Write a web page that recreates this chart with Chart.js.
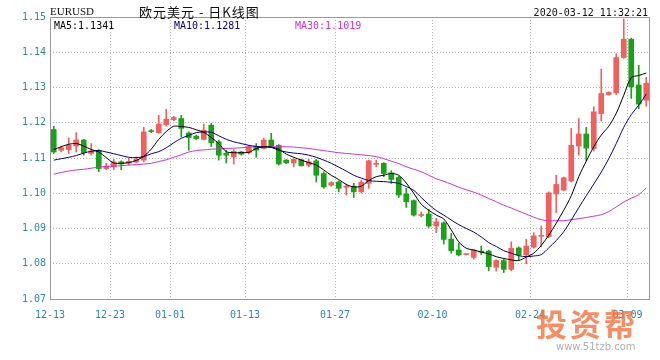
<!DOCTYPE html>
<html><head><meta charset="utf-8">
<script src="https://cdn.jsdelivr.net/npm/chart.js@4/dist/chart.umd.min.js"></script>
<style>html,body{margin:0;padding:0;background:#fff}#wrap{position:relative;width:660px;height:360px}</style>
</head><body><div id="wrap"><canvas id="c" width="660" height="360"></canvas></div>
<script>
const opens = [1.1181,1.1122,1.1124,1.1134,1.1151,1.1113,1.1122,1.1070,1.1075,1.1089,
1.1085,1.1089,1.1094,1.1177,1.1172,1.1195,1.1209,1.1212,1.1171,1.1162,
1.1153,1.1193,1.1146,1.1113,1.1103,1.1117,1.1115,1.1132,1.1127,1.1151,
1.1136,1.1094,1.1086,1.1095,1.1080,1.1092,1.1056,1.1023,1.1032,1.1017,
1.1020,1.1004,1.1028,1.1082,1.1085,1.1058,1.1045,1.0998,1.0979,1.0937,
1.0941,1.0907,1.0916,1.0870,1.0839,1.0826,1.0818,1.0835,1.0836,1.0790,
1.0809,1.0784,1.0845,1.0825,1.0847,1.0878,1.0877,1.0998,1.1009,1.1035,
1.1134,1.1168,1.1127,1.1226,1.1280,1.1285,1.1385,1.1437,1.1307,1.1264];
const closes = [1.1117,1.1129,1.1136,1.1151,1.1115,1.1120,1.1070,1.1077,1.1089,1.1083,
1.1090,1.1096,1.1174,1.1175,1.1196,1.1210,1.1215,1.1184,1.1158,1.1155,
1.1179,1.1143,1.1108,1.1108,1.1119,1.1111,1.1132,1.1122,1.1151,1.1134,
1.1083,1.1086,1.1096,1.1078,1.1089,1.1051,1.1018,1.1030,1.1014,1.1020,
1.1004,1.1031,1.1092,1.1085,1.1056,1.1039,1.0995,1.0976,1.0938,1.0939,
1.0907,1.0919,1.0869,1.0837,1.0825,1.0827,1.0839,1.0833,1.0792,1.0809,
1.0784,1.0844,1.0825,1.0850,1.0879,1.0880,1.1001,1.1025,1.1044,1.1136,
1.1168,1.1128,1.1231,1.1283,1.1286,1.1385,1.1437,1.1302,1.1253,1.1312];
const highs = [1.1190,1.1134,1.1157,1.1172,1.1153,1.1141,1.1124,1.1085,1.1096,1.1092,
1.1099,1.1103,1.1187,1.1181,1.1221,1.1238,1.1218,1.1221,1.1174,1.1165,
1.1196,1.1198,1.1151,1.1122,1.1124,1.1119,1.1136,1.1141,1.1156,1.1170,
1.1138,1.1096,1.1098,1.1097,1.1096,1.1096,1.1061,1.1033,1.1035,1.1026,
1.1028,1.1037,1.1094,1.1094,1.1087,1.1064,1.1048,1.1014,1.0981,1.0947,
1.0954,1.0929,1.0919,1.0886,1.0858,1.0828,1.0840,1.0850,1.0838,1.0812,
1.0813,1.0862,1.0848,1.0869,1.0888,1.0907,1.1004,1.1051,1.1046,1.1184,
1.1212,1.1187,1.1245,1.1352,1.1288,1.1396,1.1494,1.1440,1.1363,1.1329];
const lows = [1.1113,1.1117,1.1113,1.1117,1.1108,1.1108,1.1061,1.1067,1.1067,1.1067,
1.1080,1.1086,1.1089,1.1172,1.1170,1.1190,1.1206,1.1160,1.1122,1.1152,
1.1151,1.1132,1.1094,1.1086,1.1083,1.1108,1.1111,1.1102,1.1126,1.1132,
1.1080,1.1084,1.1075,1.1077,1.1075,1.1032,1.1014,1.1020,1.1004,1.0995,
1.0988,1.1001,1.1014,1.1075,1.1047,1.1028,1.0988,1.0960,1.0935,1.0933,
1.0903,1.0888,1.0856,1.0830,1.0822,1.0825,1.0813,1.0826,1.0780,1.0779,
1.0775,1.0780,1.0811,1.0800,1.0844,1.0848,1.0874,1.0945,1.1007,1.1032,
1.1108,1.1092,1.1120,1.1205,1.1278,1.1280,1.1383,1.1269,1.1240,1.1247];
const ma5 = [1.1124,1.1132,1.1139,1.1141,1.1134,1.1124,1.1117,1.1101,1.1086,1.1085,
1.1087,1.1093,1.1105,1.1125,1.1153,1.1175,1.1190,1.1189,1.1187,1.1180,
1.1173,1.1158,1.1141,1.1118,1.1115,1.1115,1.1116,1.1127,1.1132,1.1131,
1.1125,1.1111,1.1102,1.1094,1.1087,1.1080,1.1066,1.1051,1.1039,1.1025,
1.1018,1.1020,1.1036,1.1047,1.1051,1.1056,1.1051,1.1029,1.1000,1.0969,
1.0952,1.0938,1.0927,1.0896,1.0862,1.0844,1.0839,1.0833,1.0828,1.0820,
1.0815,1.0811,1.0809,1.0819,1.0830,1.0852,1.0881,1.0915,1.0952,1.0993,
1.1047,1.1091,1.1132,1.1165,1.1190,1.1227,1.1278,1.1328,1.1334,1.1341];
const ma10 = [1.1094,1.1098,1.1102,1.1107,1.1114,1.1119,1.1121,1.1117,1.1112,1.1107,
1.1102,1.1101,1.1104,1.1112,1.1118,1.1129,1.1143,1.1156,1.1164,1.1172,
1.1174,1.1173,1.1163,1.1153,1.1146,1.1141,1.1136,1.1133,1.1131,1.1130,
1.1122,1.1117,1.1114,1.1112,1.1108,1.1102,1.1094,1.1085,1.1074,1.1063,
1.1051,1.1043,1.1036,1.1034,1.1033,1.1031,1.1028,1.1019,1.1008,1.0988,
1.0968,1.0951,1.0938,1.0924,1.0911,1.0900,1.0890,1.0876,1.0860,1.0849,
1.0837,1.0830,1.0823,1.0820,1.0822,1.0826,1.0845,1.0866,1.0891,1.0924,
1.0959,1.0993,1.1026,1.1060,1.1098,1.1141,1.1187,1.1223,1.1250,1.1281];
const ma30 = [1.1054,1.1059,1.1063,1.1066,1.1068,1.1071,1.1074,1.1076,1.1077,1.1078,
1.1080,1.1081,1.1083,1.1085,1.1090,1.1095,1.1102,1.1109,1.1117,1.1121,
1.1123,1.1125,1.1126,1.1127,1.1128,1.1129,1.1131,1.1132,1.1132,1.1132,
1.1132,1.1132,1.1131,1.1129,1.1127,1.1124,1.1121,1.1118,1.1115,1.1113,
1.1111,1.1109,1.1107,1.1104,1.1098,1.1091,1.1084,1.1075,1.1068,1.1061,
1.1051,1.1041,1.1034,1.1026,1.1017,1.1010,1.1003,1.0995,1.0985,1.0976,
1.0966,1.0958,1.0949,1.0941,1.0932,1.0925,1.0922,1.0922,1.0922,1.0925,
1.0928,1.0931,1.0935,1.0939,1.0948,1.0961,1.0975,1.0986,1.0996,1.1015];
const tickIndex = [0, 8, 16, 26, 38, 51, 64, 77];
const tickLabels = ['12-13','12-23','01-01','01-13','01-27','02-10','02-24','03-09'];
const legendLabels = ['MA5:1.1341', 'MA10:1.1281', 'MA30:1.1019'];
const headerSymbol = 'EURUSD';
const headerTitle = '欧元美元 - 日K线图';
const headerTime = '2020-03-12 11:32:21';
const watermarkTitle = '投资帮';
const watermarkSite = 'www.51tzb.com';

const UP = '#f25f5f', DOWN = '#1ca01c';
const MA_COLORS = ['#000000', '#000080', '#cc33cc'];
const candleColor = ctx => closes[ctx.dataIndex] >= opens[ctx.dataIndex] ? UP : DOWN;
const pts = arr => arr.map((v, i) => ({x: i, y: v}));

const frame = {
  id: 'frame',
  afterDraw(chart) {
    const {ctx, chartArea: a} = chart;
    ctx.save();
    ctx.strokeStyle = '#9a9a9a';
    ctx.lineWidth = 1;
    ctx.strokeRect(Math.round(a.left) + 0.5, Math.round(a.top) + 0.5, Math.round(a.right - a.left) - 1, Math.round(a.bottom - a.top));
    ctx.textBaseline = 'alphabetic';
    ctx.fillStyle = '#111';
    ctx.font = '11px "Liberation Serif"';
    ctx.textAlign = 'left';
    ctx.fillText(headerSymbol, a.left, a.top - 2);
    ctx.font = '13px "Noto Sans CJK SC"';
    ctx.letterSpacing = '1px';
    ctx.fillText(headerTitle, 139, 17);
    ctx.letterSpacing = '0px';
    ctx.font = '10px "DejaVu Sans Mono"';
    ctx.textAlign = 'right';
    ctx.fillText(headerTime, 648, 16);
    ctx.textAlign = 'left';
    const lx = [54, 174, 295];
    legendLabels.forEach((t, i) => {
      ctx.fillStyle = MA_COLORS[i];
      ctx.fillText(t, lx[i], a.top + 12);
    });
    // watermark
    ctx.globalAlpha = 0.8;
    ctx.fillStyle = '#f2703f';
    ctx.font = 'bold 31px "Noto Sans CJK SC"';
    ctx.letterSpacing = '3px';
    ctx.fillText(watermarkTitle, 536, 336);
    ctx.letterSpacing = '0px';
    ctx.globalAlpha = 0.6;
    ctx.fillStyle = '#777';
    ctx.font = '10px "DejaVu Sans"';
    ctx.fillText(watermarkSite, 556, 350);
    ctx.restore();
  }
};

new Chart(document.getElementById('c'), {
  type: 'bar',
  data: {
    datasets: [
      {type: 'line', data: pts(ma5), borderColor: MA_COLORS[0], borderWidth: 1, pointRadius: 0, tension: 0.3, order: 0},
      {type: 'line', data: pts(ma10), borderColor: MA_COLORS[1], borderWidth: 1, pointRadius: 0, tension: 0.3, order: 0},
      {type: 'line', data: pts(ma30), borderColor: MA_COLORS[2], borderWidth: 1, pointRadius: 0, tension: 0.3, order: 0},
      {data: lows.map((l, i) => ({x: i, y: [l, highs[i]]})), backgroundColor: candleColor, barThickness: 1, grouped: false, order: 2},
      {data: opens.map((o, i) => ({x: i, y: [o, closes[i]]})), backgroundColor: candleColor, barThickness: 5, minBarLength: 1, grouped: false, order: 1}
    ]
  },
  options: {
    responsive: false,
    animation: false,
    devicePixelRatio: 1,
    layout: {padding: {top: 17, right: 10, left: 0, bottom: 0}},
    plugins: {legend: {display: false}, tooltip: {enabled: false}},
    scales: {
      x: {
        type: 'linear', min: -0.5, max: opens.length - 0.5, offset: false,
        afterBuildTicks: axis => { axis.ticks = tickIndex.map(i => ({value: i - 0.5})); },
        afterFit: axis => { axis.height = 61; },
        grid: {offset: false, color: '#b5b5b5', drawTicks: false},
        border: {display: false, dash: [1, 2]},
        ticks: {autoSkip: false, maxRotation: 0, padding: 10, color: '#2f86a6',
          font: {family: 'DejaVu Sans Mono', size: 10},
          callback: (v, i) => tickLabels[i]}
      },
      y: {
        min: 1.07, max: 1.15,
        afterFit: axis => { axis.width = 50; },
        grid: {color: '#b5b5b5', drawTicks: false},
        border: {display: false, dash: [1, 2]},
        ticks: {stepSize: 0.01, padding: 4, color: '#2f86a6',
          font: {family: 'DejaVu Sans Mono', size: 10},
          callback: v => v.toFixed(2)}
      }
    }
  },
  plugins: [frame]
});
</script>
</body></html>
